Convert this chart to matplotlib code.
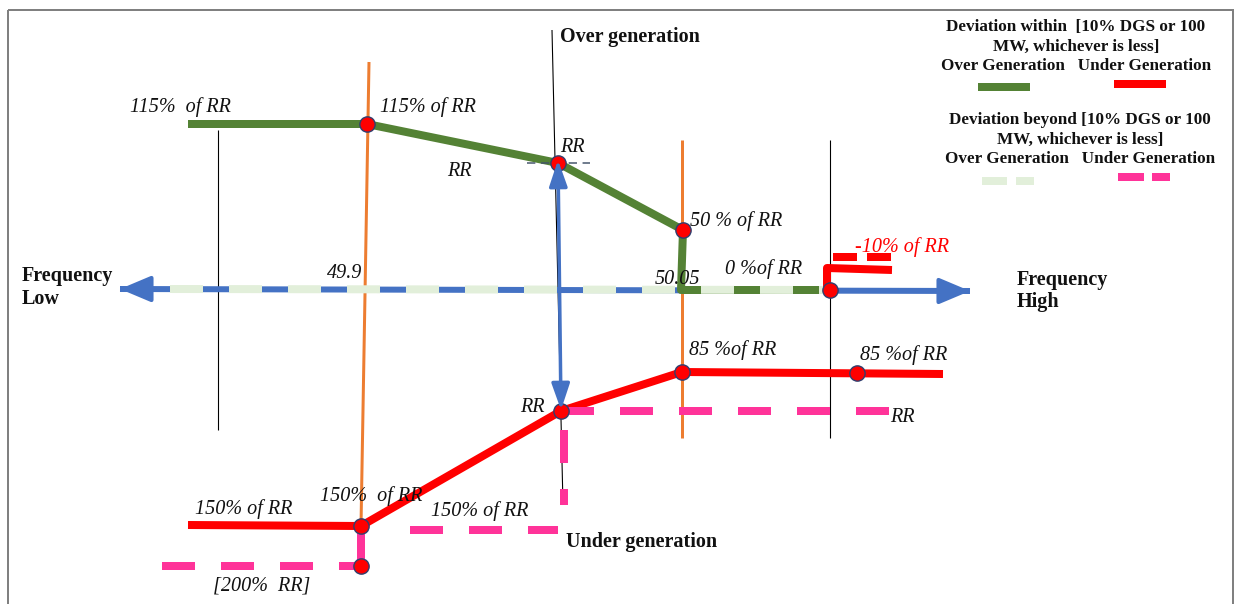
import matplotlib
matplotlib.use('Agg')
import matplotlib.pyplot as plt
from matplotlib.patches import Rectangle

plt.rcParams['lines.scale_dashes'] = False
plt.rcParams['lines.solid_capstyle'] = 'butt'
plt.rcParams['lines.dash_capstyle'] = 'butt'

W, H = 1237, 604

# ---------------- data (diagram coordinates) ----------------
freq_axis_x = [120, 970]
freq_axis_y = [289, 291]

green_x = [188, 367, 558, 683, 681, 830]          # over generation within
green_y = [124, 124, 163, 230, 290, 290]
green_marker_x = [367, 558, 683, 830]
green_marker_y = [124, 163, 230, 290]

red_x = [188, 361, 561, 682, 943]                  # under generation within
red_y = [525, 526, 411, 372, 374]
red_marker_x = [361, 561, 682, 857, 361]
red_marker_y = [526, 411, 372, 373, 566]

neg_x = [827, 827, 892]                            # -10% of RR
neg_y = [290, 268, 270]
neg_dash_x = [833, 892]
neg_dash_y = [257, 257]

pink_x = [[162, 361], [361, 361], [410, 558], [564, 564], [561, 897]]
pink_y = [[566, 566], [566, 530], [530, 530], [430, 505], [411, 411]]

lgreen_x = [170, 830]
lgreen_y = [289, 290]

black_x = [[218, 218], [552, 563], [830, 830]]
black_y = [[130, 430], [30, 505], [140, 438]]
orange_x = [[369, 361], [682, 682]]
orange_y = [[62, 526], [140, 438]]

vert_arrow_x = [558, 561]
vert_arrow_y = [160, 410]

labels = ["115%  of RR", "115% of RR", "RR", "RR", "50 % of RR", "0 %of RR",
          "49.9", "50.05", "85 %of RR", "85 %of RR", "RR", "RR",
          "150%  of RR", "150% of RR", "150% of RR", "[200%  RR]"]
label_x = [130, 380, 560, 447, 690, 725, 327, 655, 689, 860, 520, 890,
           320, 195, 431, 213]
label_y = [107, 107, 147, 172, 221, 269, 274, 280, 350, 355, 408, 418,
           496, 509, 511, 586]

legend_lines1 = ["Deviation within  [10% DGS or 100", "MW, whichever is less]",
                 "Over Generation   Under Generation"]
legend_lines2 = ["Deviation beyond [10% DGS or 100", "MW, whichever is less]",
                 "Over Generation   Under Generation"]

C_GREEN = '#548235'
C_RED = '#FF0000'
C_PINK = '#FF3399'
C_LGREEN = '#E2EFDA'
C_BLUE = '#4472C4'
C_ORANGE = '#ED7D31'
C_EDGE = '#2F3F6F'
C_TEXT = '#111111'

PX = 0.72  # points per pixel at dpi 100
DASH = (0, (33 * PX, 26 * PX))

fig = plt.figure(figsize=(W / 100, H / 100), dpi=100)
ax = fig.add_axes([0, 0, 1, 1])
ax.set_xlim(0, W)
ax.set_ylim(H, 0)
ax.axis('off')

SERIF = ['Liberation Serif', 'DejaVu Serif']

# frame
ax.add_patch(Rectangle((8, 10), 1225, 620, fill=False, edgecolor='#808080', lw=2 * PX))

# thin black and orange vertical lines
for xs, ys in zip(black_x, black_y):
    ax.plot(xs, ys, color='black', lw=1.1 * PX)
for xs, ys in zip(orange_x, orange_y):
    ax.plot(xs, ys, color=C_ORANGE, lw=3 * PX)

# frequency axis (double arrow)
ax.plot(freq_axis_x[0:2], freq_axis_y, color=C_BLUE, lw=6 * PX)
ax.annotate('', xy=(freq_axis_x[0], freq_axis_y[0]), xytext=(freq_axis_x[0] + 40, freq_axis_y[0]),
            arrowprops=dict(arrowstyle='-|>,head_length=1.9,head_width=0.8', color=C_BLUE, lw=4 * PX,
                            shrinkA=0, shrinkB=0))
ax.annotate('', xy=(freq_axis_x[1], freq_axis_y[1]), xytext=(freq_axis_x[1] - 40, freq_axis_y[1]),
            arrowprops=dict(arrowstyle='-|>,head_length=1.9,head_width=0.8', color=C_BLUE, lw=4 * PX,
                            shrinkA=0, shrinkB=0))

# green solid (over generation within)
ax.plot(green_x, green_y, color=C_GREEN, lw=8 * PX, solid_joinstyle='round')
# light green dashed (over generation beyond)
ax.plot(lgreen_x, lgreen_y, color=C_LGREEN, lw=8 * PX, linestyle=DASH)

# vertical blue double arrow
ax.annotate('', xy=(vert_arrow_x[0], vert_arrow_y[0]), xytext=(vert_arrow_x[1], vert_arrow_y[1]),
            arrowprops=dict(arrowstyle='<|-|>,head_length=1.6,head_width=0.55', color=C_BLUE, lw=3.5 * PX,
                            shrinkA=0, shrinkB=0))

# small gray dashed line at RR
ax.plot([527, 590], [163, 163], color='#44546A', lw=1.5 * PX, linestyle=(0, (6, 4)))

# red solid
ax.plot(red_x, red_y, color=C_RED, lw=8 * PX, solid_joinstyle='round')
ax.plot(neg_x, neg_y, color=C_RED, lw=8 * PX)
ax.plot(neg_dash_x, neg_dash_y, color=C_RED, lw=8 * PX, linestyle=(0, (24 * PX, 10 * PX)))

# pink dashed
for xs, ys in zip(pink_x, pink_y):
    ax.plot(xs, ys, color=C_PINK, lw=8 * PX, linestyle=DASH)

# markers
ax.plot(green_marker_x, green_marker_y, 'o', ms=11, mfc='red', mec=C_EDGE, mew=1)
ax.plot(red_marker_x, red_marker_y, 'o', ms=11, mfc='red', mec=C_EDGE, mew=1)

# labels
for t, x, y in zip(labels, label_x, label_y):
    ax.text(x, y, t, fontsize=14.5, style='italic', family=SERIF, va='center', ha='left', color=C_TEXT)
ax.text(855, 247, "-10% of RR", fontsize=14.5, style='italic', family=SERIF, va='center', color='red')

ax.text(560, 37, "Over generation", fontsize=14.5, weight='bold', family=SERIF, va='center', color=C_TEXT)
ax.text(566, 542, "Under generation", fontsize=14.5, weight='bold', family=SERIF, va='center', color=C_TEXT)
ax.text(22, 288, "Frequency\nLow", fontsize=14.5, weight='bold', family=SERIF, va='center', linespacing=1.2,
        color=C_TEXT)
ax.text(1017, 291, "Frequency\nHigh", fontsize=14.5, weight='bold', family=SERIF, va='center', linespacing=1.2,
        color=C_TEXT)

# legend block
for i, t in enumerate(legend_lines1):
    ax.text(1076, 27 + 19.5 * i, t, fontsize=12.3, weight='bold', family=SERIF, ha='center', va='center',
            color=C_TEXT)
for i, t in enumerate(legend_lines2):
    ax.text(1080, 120 + 19.5 * i, t, fontsize=12.3, weight='bold', family=SERIF, ha='center', va='center',
            color=C_TEXT)
ax.plot([978, 1030], [87, 87], color=C_GREEN, lw=8 * PX)
ax.plot([1114, 1166], [84, 84], color=C_RED, lw=8 * PX)
ax.plot([982, 1034], [181, 181], color=C_LGREEN, lw=8 * PX, linestyle=(0, (25 * PX, 9 * PX)))
ax.plot([1118, 1170], [177, 177], color=C_PINK, lw=8 * PX, linestyle=(0, (26 * PX, 8 * PX)))

fig.savefig('out.png', dpi=100)
